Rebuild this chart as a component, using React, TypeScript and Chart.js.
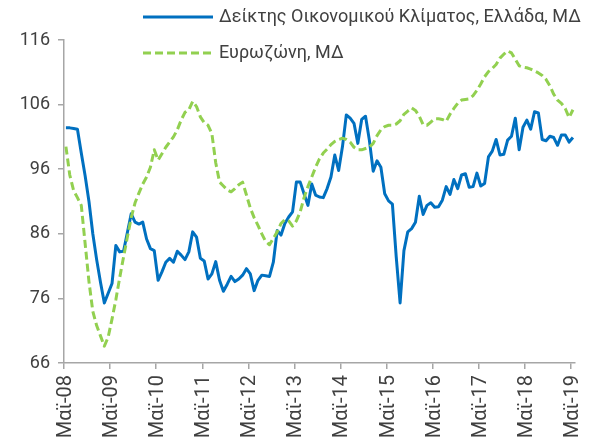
import React, { useEffect, useRef } from "react";
import { Chart, registerables } from "chart.js";

Chart.register(...registerables);

const monthNames = ["Ιαν", "Φεβ", "Μαρ", "Απρ", "Μαϊ", "Ιουν", "Ιουλ", "Αυγ", "Σεπ", "Οκτ", "Νοε", "Δεκ"];
const startYear = 2008;
const startMonth = 4; // May
const monthCount = 133; // May 2008 .. May 2019

const categories: string[] = [];
for (let k = 0; k < monthCount; k++) {
  const m = (startMonth + k) % 12;
  const y = startYear + Math.floor((startMonth + k) / 12);
  categories.push(monthNames[m] + "-" + String(y % 100).padStart(2, "0"));
}

const greece = [
  102.4, 102.4, 102.3, 102.2, 98.5, 95.0, 91.0, 86.0, 82.0, 78.5, 75.3, 76.8,
  78.3, 84.2, 83.2, 83.3, 86.2, 89.1, 87.8, 87.5, 87.8, 85.2, 83.7, 83.4,
  78.8, 80.1, 81.6, 82.2, 81.6, 83.3, 82.7, 82.0, 83.2, 86.3, 85.5, 82.2,
  81.8, 79.0, 79.8, 81.7, 78.8, 77.1, 78.2, 79.4, 78.6, 79.0, 79.6, 80.6,
  79.8, 77.2, 78.8, 79.6, 79.5, 79.4, 81.6, 86.5, 85.8, 87.6, 88.6, 89.4,
  94.0, 94.0, 92.2, 90.4, 93.7, 92.0, 91.7, 91.6, 93.0, 94.8, 98.2, 95.8,
  99.5, 104.4, 103.9, 103.1, 100.0, 103.7, 104.2, 100.5, 95.7, 97.3, 96.3, 92.2,
  91.1, 90.6, 82.4, 75.3, 83.4, 86.3, 86.8, 87.8, 91.8, 89.0, 90.4, 90.8,
  90.1, 90.2, 91.2, 93.3, 92.1, 94.4, 93.0, 95.1, 95.3, 93.2, 93.3, 95.4,
  93.4, 93.8, 97.9, 98.8, 100.6, 98.2, 98.3, 100.5, 101.1, 103.9, 99.0, 102.5,
  103.6, 102.2, 104.9, 104.7, 100.6, 100.4, 101.1, 100.9, 99.7, 101.3, 101.3, 100.2,
  100.9,
];

const eurozone = [
  99.5, 95.1, 92.7, 91.6, 90.4, 84.5, 78.6, 74.0, 71.8, 70.2, 68.6, 70.0,
  72.8, 75.8, 79.2, 82.4, 85.5, 88.5, 90.8, 92.3, 93.7, 94.8, 96.3, 99.0,
  97.4, 98.4, 99.4, 100.2, 101.0, 102.1, 103.6, 104.8, 105.2, 106.5, 105.7, 104.1,
  103.2, 102.8, 101.5, 97.0, 94.0, 93.4, 92.8, 92.5, 93.0, 93.6, 94.0, 92.0,
  90.0, 88.5, 87.3, 86.0, 84.8, 84.3, 85.3, 86.3, 87.6, 88.2, 88.0, 87.2,
  88.0, 89.4, 91.6, 93.3, 94.8, 96.3, 97.6, 98.5, 99.1, 99.8, 100.3, 100.6,
  100.8, 100.6, 100.2, 99.4, 99.0, 99.0, 99.2, 99.4, 100.0, 101.2, 102.1, 102.6,
  102.8, 102.8, 103.0, 103.5, 104.5, 105.0, 105.5, 105.1, 104.2, 102.9, 102.8, 103.3,
  103.8, 103.8, 103.7, 103.4, 104.5, 105.4, 106.2, 106.7, 106.8, 106.9, 107.4, 108.2,
  109.2, 110.3, 111.1, 111.6, 112.2, 113.2, 113.8, 114.3, 114.0, 113.0, 112.0, 111.8,
  111.7, 111.5, 111.2, 110.9, 110.5, 109.9, 108.9, 107.6, 106.7, 106.2, 105.4, 104.0,
  105.2,
];

const seriesNames = ["Δείκτης Οικονομικού Κλίματος, Ελλάδα, ΜΔ", "Ευρωζώνη, ΜΔ"];
const yTicks = [66, 76, 86, 96, 106, 116];

const BLUE = "#0070C0";
const GREEN = "#92D050";
const AXIS = "#A6A6A6";
const TEXT = "#404040";
const FONT_FAMILY = "Roboto, 'DejaVu Sans', sans-serif";

const legendPlugin = {
  id: "customLegend",
  afterDraw(chart: any) {
    const ctx = chart.ctx as CanvasRenderingContext2D;
    const items = [
      { text: seriesNames[0], color: BLUE, dash: [] as number[], y: 17 },
      { text: seriesNames[1], color: GREEN, dash: [8, 4], y: 53 },
    ];
    ctx.save();
    for (const it of items) {
      ctx.beginPath();
      ctx.setLineDash(it.dash);
      ctx.strokeStyle = it.color;
      ctx.lineWidth = 3;
      ctx.moveTo(143, it.y);
      ctx.lineTo(213, it.y);
      ctx.stroke();
      ctx.setLineDash([]);
      ctx.fillStyle = TEXT;
      ctx.font = `18px ${FONT_FAMILY}`;
      ctx.textBaseline = "middle";
      ctx.textAlign = "left";
      ctx.fillText(it.text, 219, it.y);
    }
    ctx.restore();
  },
};

export default function App() {
  const ref = useRef<HTMLCanvasElement | null>(null);

  useEffect(() => {
    if (!ref.current) return;
    const chart = new Chart(ref.current, {
      type: "line",
      data: {
        labels: categories,
        datasets: [
          {
            label: seriesNames[0],
            data: greece,
            borderColor: BLUE,
            backgroundColor: BLUE,
            borderWidth: 3,
            pointRadius: 0,
            tension: 0,
            borderJoinStyle: "round",
            order: 1,
          },
          {
            label: seriesNames[1],
            data: eurozone,
            borderColor: GREEN,
            backgroundColor: GREEN,
            borderWidth: 3,
            borderDash: [8, 4],
            pointRadius: 0,
            tension: 0,
            borderJoinStyle: "round",
            order: 0,
          },
        ],
      },
      options: {
        responsive: false,
        animation: false,
        layout: { padding: { top: 40, right: 17, left: 0, bottom: 0 } },
        plugins: { legend: { display: false }, tooltip: { enabled: false } },
        scales: {
          x: {
            type: "category",
            offset: true,
            grid: {
              offset: true,
              drawOnChartArea: false,
              drawTicks: true,
              tickLength: 6,
              lineWidth: 1.5,
              color: (c: any) => (c.index !== undefined && c.index % 12 === 0 ? AXIS : "transparent"),
            },
            border: { color: AXIS, width: 1.5 },
            ticks: {
              autoSkip: false,
              maxRotation: 90,
              minRotation: 90,
              padding: 6,
              color: TEXT,
              font: { family: FONT_FAMILY, size: 20 },
              callback: (_v: any, i: number) => (i % 12 === 0 ? categories[i] : ""),
            },
            afterFit: (s: any) => {
              s.height = 83;
            },
          },
          y: {
            min: 66,
            max: 116,
            afterBuildTicks: (s: any) => {
              s.ticks = yTicks.map((v) => ({ value: v }));
            },
            ticks: {
              padding: 8,
              color: TEXT,
              font: { family: FONT_FAMILY, size: 18 },
            },
            grid: {
              drawOnChartArea: false,
              drawTicks: true,
              tickLength: 6,
              lineWidth: 1.5,
              color: AXIS,
            },
            border: { color: AXIS, width: 1.5 },
            afterFit: (s: any) => {
              s.width = 64;
            },
          },
        },
      },
      plugins: [legendPlugin],
    });
    return () => chart.destroy();
  }, []);

  return (
    <div style={{ position: "absolute", left: 0, top: 0, width: 603, height: 446, background: "#fff" }}>
      <canvas ref={ref} width={603} height={446} style={{ display: "block" }} />
    </div>
  );
}
